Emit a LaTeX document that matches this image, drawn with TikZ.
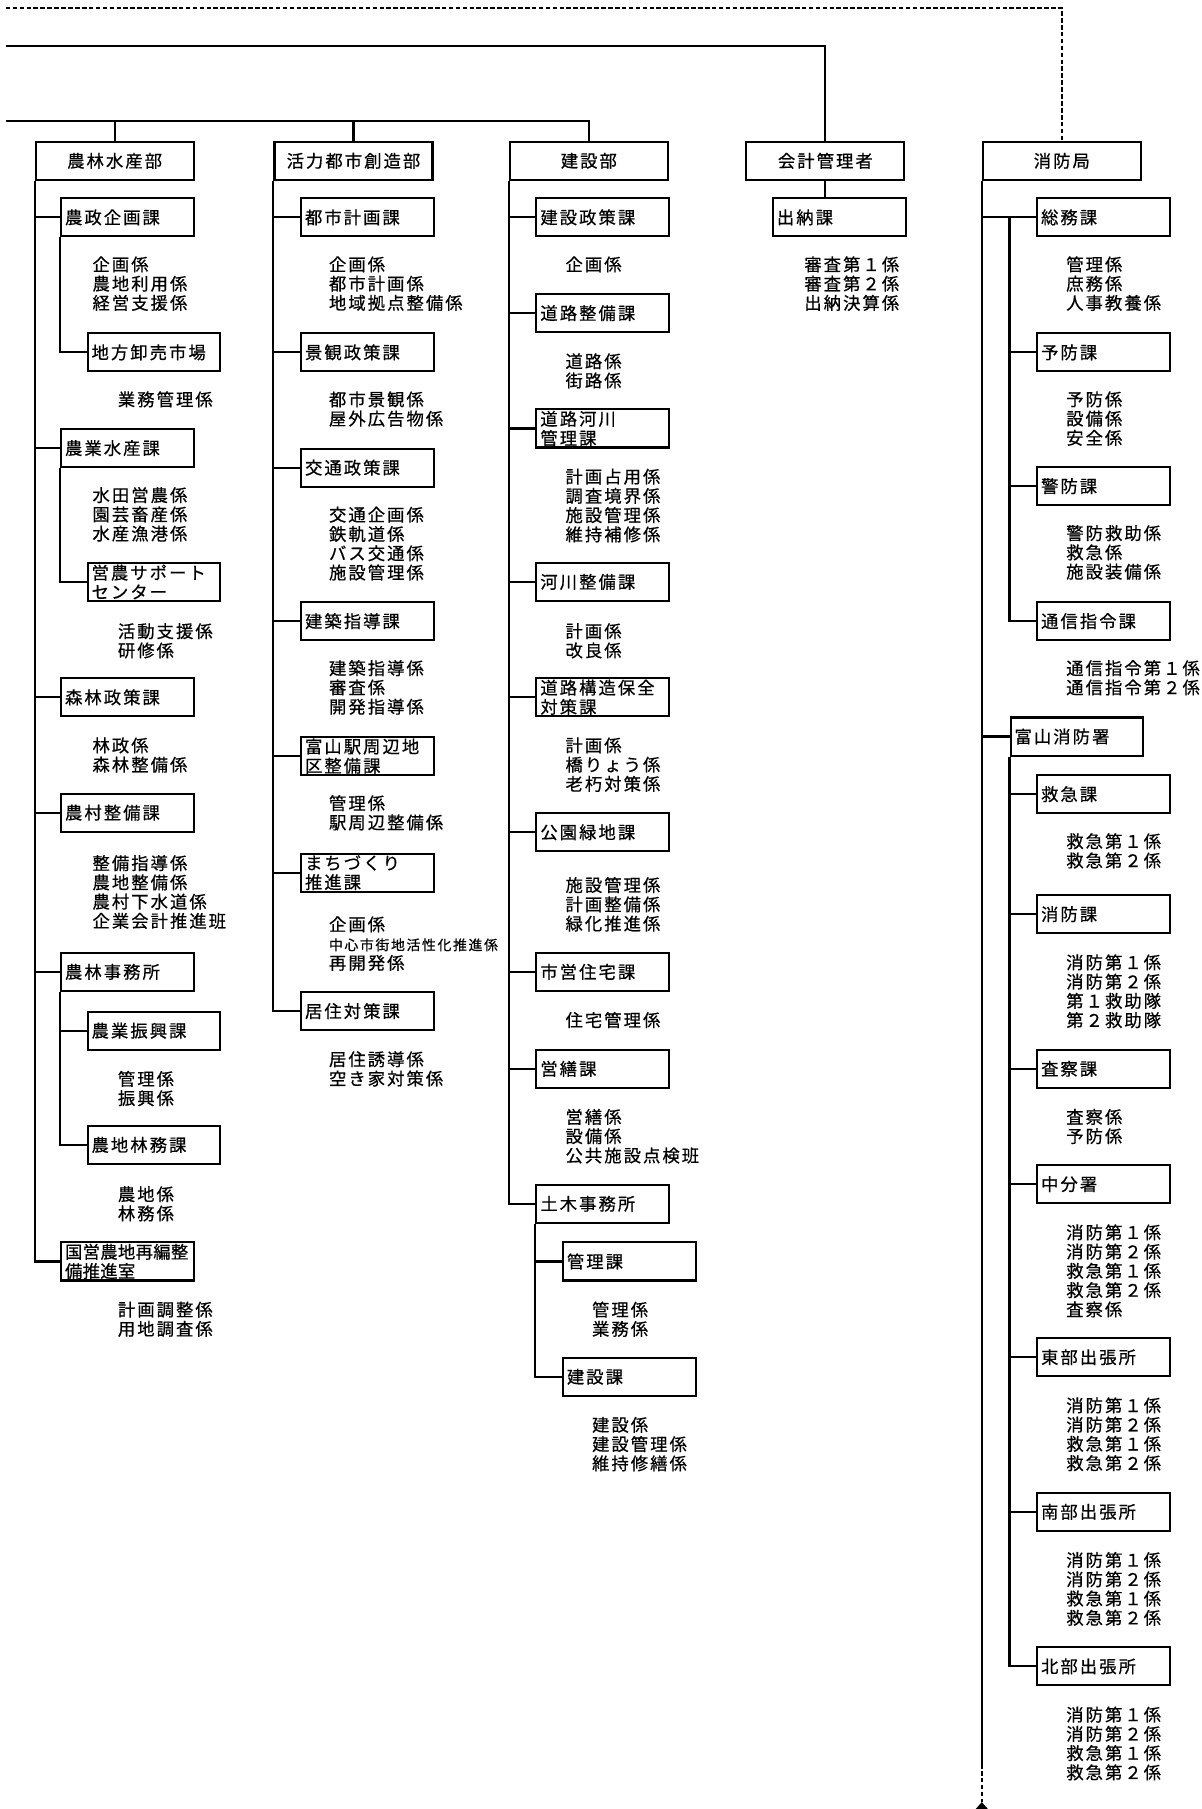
\documentclass[tikz,border=0pt]{standalone}
\usepackage{fontspec}
\newfontfamily\jpfont[LetterSpace=12, FakeBold=0.6]{Noto Sans CJK JP}
\newcommand{\smallkakari}{\fontsize{12pt}{16.7pt}\selectfont}
\newcommand{\narrowka}{\addfontfeature{LetterSpace=2}}

\begin{document}
\begin{tikzpicture}[x=1pt, y=-1pt,
        font=\jpfont\fontsize{15pt}{16.7pt}\selectfont,
        bu/.style={draw, line width=1.8pt, minimum width=137pt, minimum height=33pt, inner sep=0pt, anchor=north west},
        ka/.style={draw, line width=1.8pt, text width=108pt, align=left, inner xsep=3.5pt, inner ysep=1pt, minimum height=33pt, anchor=north west},
        kakari/.style={align=left, inner sep=0pt, anchor=north west},
        link/.style={line width=1.8pt}]
        \useasboundingbox (0,0) rectangle (1041,1568);

        % Free ends of the top lines
        \coordinate (dash-l) at (5,7);
        \coordinate (acct-l) at (5,40);
        \coordinate (dept-l) at (5,105);

        % Departments
        \node[bu] (nrin) at (30,122) {農林水産部};
        \node[bu] (katsu) at (237,122) {活力都市創造部};
        \node[bu] (kens) at (441,122) {建設部};
        \node[bu] (kaikei) at (646,122) {会計管理者};
        \node[bu] (shobo) at (851,122) {消防局};

        % Top lines
        \draw[line width=1.2pt, dash pattern=on 4pt off 2pt] (dash-l) -| (shobo.north);
        \draw[link] (acct-l) -| (kaikei.north);
        \draw[link] (dept-l) -| (kens.north);
        \foreach \d in {nrin, katsu}
            \draw[link] (\d.north) -- (\d.north |- dept-l);

        % 農林水産部
        \node[ka] (nseiki) at (52,171) {農政企画課};
        \node[ka] (chiho) at (75,288) {地方卸売市場};
        \node[ka] (ngyo) at (52,371) {農業水産課};
        \node[ka] (eino) at (75,487) {営農サポート\\センター};
        \node[ka] (shinrin) at (52,587) {森林政策課};
        \node[ka] (noson) at (52,687) {農村整備課};
        \node[ka] (nrjim) at (52,825) {農林事務所};
        \node[ka] (shinko) at (75,876) {農業振興課};
        \node[ka] (nochi) at (75,975) {農地林務課};
        \node[ka] (kokuei) at (52,1076) {\narrowka 国営農地再編整\\備推進室};

        \node[kakari] (nseiki-k) at (80,222) {企画係\\農地利用係\\経営支援係};
        \node[kakari] (chiho-k) at (102,339) {業務管理係};
        \node[kakari] (ngyo-k) at (80,422) {水田営農係\\園芸畜産係\\水産漁港係};
        \node[kakari] (eino-k) at (102,540) {活動支援係\\研修係};
        \node[kakari] (shinrin-k) at (80,639) {林政係\\森林整備係};
        \node[kakari] (noson-k) at (80,741) {整備指導係\\農地整備係\\農村下水道係\\企業会計推進班};
        \node[kakari] (shinko-k) at (102,928) {管理係\\振興係};
        \node[kakari] (nochi-k) at (102,1028) {農地係\\林務係};
        \node[kakari] (kokuei-k) at (102,1128) {計画調整係\\用地調査係};

        \draw[link] (nrin.south west) |- (kokuei.west);
        \foreach \s in {nseiki, ngyo, shinrin, noson, nrjim}
            \draw[link] (nrin.south west |- \s.west) -- (\s.west);
        \draw[link] (nseiki.south west) |- (chiho.west);
        \draw[link] (ngyo.south west) |- (eino.west);
        \draw[link] (nrjim.south west) |- (nochi.west);
        \draw[link] (nrjim.south west |- shinko.west) -- (shinko.west);

        % 活力都市創造部
        \node[ka] (tokei) at (260,171) {都市計画課};
        \node[ka] (keikan) at (260,288) {景観政策課};
        \node[ka] (kotsu) at (260,388) {交通政策課};
        \node[ka] (kenchiku) at (260,521) {建築指導課};
        \node[ka] (ekisyu) at (260,638) {富山駅周辺地\\区整備課};
        \node[ka] (machi) at (260,739) {まちづくり\\推進課};
        \node[ka] (kyoju) at (260,859) {居住対策課};

        \node[kakari] (tokei-k) at (285,222) {企画係\\都市計画係\\地域拠点整備係};
        \node[kakari] (keikan-k) at (285,339) {都市景観係\\屋外広告物係};
        \node[kakari] (kotsu-k) at (285,439) {交通企画係\\鉄軌道係\\バス交通係\\施設管理係};
        \node[kakari] (kenchiku-k) at (285,572) {建築指導係\\審査係\\開発指導係};
        \node[kakari] (ekisyu-k) at (285,689) {管理係\\駅周辺整備係};
        \node[kakari] (machi-k) at (285,794) {企画係\\{\smallkakari 中心市街地活性化推進係}\\再開発係};
        \node[kakari] (kyoju-k) at (285,911) {居住誘導係\\空き家対策係};

        \draw[link] (katsu.south west) |- (kyoju.west);
        \foreach \s in {tokei, keikan, kotsu, kenchiku, ekisyu, machi}
            \draw[link] (katsu.south west |- \s.west) -- (\s.west);

        % 建設部
        \node[ka] (kseisaku) at (464,171) {建設政策課};
        \node[ka] (doro) at (464,254) {道路整備課};
        \node[ka] (dkasen) at (464,354) {道路河川\\管理課};
        \node[ka] (kasen) at (464,487) {河川整備課};
        \node[ka] (kozo) at (464,587) {道路構造保全\\対策課};
        \node[ka] (koen) at (464,704) {公園緑地課};
        \node[ka] (shiei) at (464,825) {市営住宅課};
        \node[ka] (eizen) at (464,909) {営繕課};
        \node[ka] (doboku) at (464,1026) {土木事務所};
        \node[ka] (kanri) at (487,1076) {管理課};
        \node[ka] (kensetsu) at (487,1176) {建設課};

        \node[kakari] (kseisaku-k) at (490,222) {企画係};
        \node[kakari] (doro-k) at (490,306) {道路係\\街路係};
        \node[kakari] (dkasen-k) at (490,406) {計画占用係\\調査境界係\\施設管理係\\維持補修係};
        \node[kakari] (kasen-k) at (490,540) {計画係\\改良係};
        \node[kakari] (kozo-k) at (490,639) {計画係\\橋りょう係\\老朽対策係};
        \node[kakari] (koen-k) at (490,760) {施設管理係\\計画整備係\\緑化推進係};
        \node[kakari] (shiei-k) at (490,877) {住宅管理係};
        \node[kakari] (eizen-k) at (490,961) {営繕係\\設備係\\公共施設点検班};
        \node[kakari] (kanri-k) at (513,1128) {管理係\\業務係};
        \node[kakari] (kensetsu-k) at (513,1228) {建設係\\建設管理係\\維持修繕係};

        \draw[link] (kens.south west) |- (doboku.west);
        \foreach \s in {kseisaku, doro, dkasen, kasen, kozo, koen, shiei, eizen}
            \draw[link] (kens.south west |- \s.west) -- (\s.west);
        \draw[link] (doboku.south west) |- (kensetsu.west);
        \draw[link] (doboku.south west |- kanri.west) -- (kanri.west);

        % 会計管理者
        \node[ka] (suito) at (669,171) {出納課};
        \node[kakari] (suito-k) at (697,222) {審査第１係\\審査第２係\\出納決算係};
        \draw[link] (kaikei.south) -- (kaikei.south |- suito.north);

        % 消防局
        \node[ka] (somu) at (898,171) {総務課};
        \node[ka] (yobo) at (898,288) {予防課};
        \node[ka] (keibo) at (898,404) {警防課};
        \node[ka] (tsushin) at (898,521) {通信指令課};
        \node[ka] (tyshobo) at (875,621) {富山消防署};
        \node[ka] (kyukyu) at (898,671) {救急課};
        \node[ka] (shoboka) at (898,775) {消防課};
        \node[ka] (sasatsu) at (898,909) {査察課};
        \node[ka] (chubun) at (898,1009) {中分署};
        \node[ka] (tobu) at (898,1159) {東部出張所};
        \node[ka] (nanbu) at (898,1293) {南部出張所};
        \node[ka] (hokubu) at (898,1427) {北部出張所};

        \node[kakari] (somu-k) at (924,222) {管理係\\庶務係\\人事教養係};
        \node[kakari] (yobo-k) at (924,339) {予防係\\設備係\\安全係};
        \node[kakari] (keibo-k) at (924,455) {警防救助係\\救急係\\施設装備係};
        \node[kakari] (tsushin-k) at (924,572) {通信指令第１係\\通信指令第２係};
        \node[kakari] (kyukyu-k) at (924,722) {救急第１係\\救急第２係};
        \node[kakari] (shoboka-k) at (924,827) {消防第１係\\消防第２係\\第１救助隊\\第２救助隊};
        \node[kakari] (sasatsu-k) at (924,961) {査察係\\予防係};
        \node[kakari] (chubun-k) at (924,1061) {消防第１係\\消防第２係\\救急第１係\\救急第２係\\査察係};
        \node[kakari] (tobu-k) at (924,1211) {消防第１係\\消防第２係\\救急第１係\\救急第２係};
        \node[kakari] (nanbu-k) at (924,1345) {消防第１係\\消防第２係\\救急第１係\\救急第２係};
        \node[kakari] (hokubu-k) at (924,1479) {消防第１係\\消防第２係\\救急第１係\\救急第２係};

        % Fire trunk and its continuation
        \coordinate (fire-end) at (851,1529);
        \coordinate (fire-tip) at (851,1562);
        \draw[link] (shobo.south west) -- (fire-end);
        \draw[line width=1.2pt, dash pattern=on 4pt off 2pt] (fire-end) -- (fire-tip);
        \fill (fire-tip) -- ++(-7,8) -- ++(14,0) -- cycle;

        \draw[link] (shobo.south west |- somu.west) -- (somu.west);
        \draw[link] (tyshobo.west |- somu.west) |- (tsushin.west);
        \foreach \s in {yobo, keibo}
            \draw[link] (tyshobo.west |- \s.west) -- (\s.west);
        \draw[link] (shobo.south west |- tyshobo.west) -- (tyshobo.west);
        \draw[link] (tyshobo.south west) |- (hokubu.west);
        \foreach \s in {kyukyu, shoboka, sasatsu, chubun, tobu, nanbu}
            \draw[link] (tyshobo.south west |- \s.west) -- (\s.west);
    \end{tikzpicture}
\end{document}
